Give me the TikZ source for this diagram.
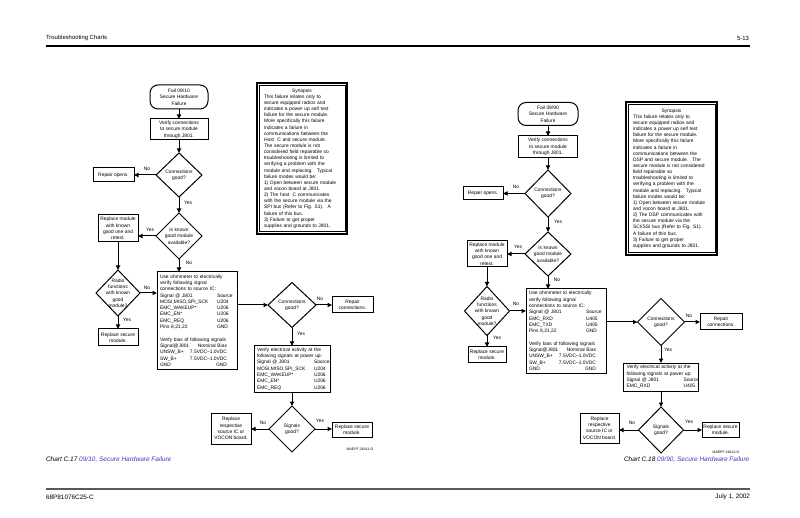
\documentclass[tikz,border=0pt]{standalone}
\usepackage{fontspec}
\setmainfont{Liberation Sans}
\usetikzlibrary{shapes.geometric,arrows.meta}
\definecolor{capblue}{RGB}{60,60,185}
\newcommand\tcola[1]{\makebox[57pt][l]{#1}}
\newcommand\tcolb[2]{\makebox[67pt][l]{#1\hfill #2}}
\begin{document}
\begin{tikzpicture}[x=1pt,y=-1pt,
  every node/.style={inner sep=0pt, outer sep=0pt},
  sm/.style={font=\fontsize{4.9}{6.3}\selectfont, align=center},
  lab/.style={font=\fontsize{4.9}{6.3}\selectfont},
  bx/.style 2 args={draw, line width=1pt, sm, minimum width=#1pt, minimum height=#2pt},
  term/.style 2 args={bx={#1}{#2}, rounded corners=8pt},
  big/.style 2 args={draw, line width=1pt, font=\fontsize{4.9}{6.3}\selectfont, align=left,
     text width=#1pt-6pt, inner xsep=3pt, inner ysep=1pt, minimum height=#2pt},
  dia/.style 2 args={draw, diamond, line width=1pt, minimum width=#1pt, minimum height=#2pt, inner sep=0pt},
  syn/.style 2 args={draw, line width=1.6pt,
     font=\fontsize{4.9}{6.15}\selectfont, align=left, text width=#1pt-14pt, inner xsep=7pt,
     inner ysep=3pt, minimum height=#2pt},
  synin/.style={draw, line width=0.6pt},
  arr/.style={draw, line width=1pt, -{Triangle[length=4.5pt,width=4.2pt]}},
  smalltxt/.style={font=\fontsize{3.5}{4}\selectfont},
  captxt/.style={font=\fontsize{6.5}{8}\selectfont\itshape, anchor=west},
  hf/.style={font=\fontsize{6.2}{8}\selectfont}
]
\fill[white] (0,0) rectangle (800,518);
\useasboundingbox (0,0) rectangle (800,518);

% header / footer
\node[hf, anchor=west, font=\fontsize{5.9}{7}\selectfont] (hdr) at (46,38) {Troubleshooting Charts};
\node[hf, anchor=east, font=\fontsize{5.9}{7}\selectfont] (pg) at (749,38) {5-13};
\draw[line width=1.4pt] (46,46) -- (750,46);
\draw[line width=1.6pt, black!65] (46,489) -- (750,489);
\node[hf, anchor=west, font=\fontsize{6.4}{8}\selectfont] (ft) at (46,497) {68P81076C25-C};
\node[hf, anchor=east, font=\fontsize{6.4}{8}\selectfont] (dt) at (750,497) {July 1, 2002};

% ================= LEFT CHART =================
\node[term={58}{24}] (t1) at (179,97) {Fail 09/10\\Secure Hardware\\Failure};
\node[bx={58}{21}] (b1) at (179,129.5) {Verify connections\\to secure module\\through J801.};
\node[dia={46}{44}] (d1) at (179,175) {};
\node[sm] (d1t) at (d1) {Connections\\good?};
\node[bx={41}{14}] (ro1) at (113.5,175) {Repair opens.};
\node[dia={46}{46}] (d2) at (179,236) {};
\node[sm] (d2t) at (d2) {Is known\\good module\\available?};
\node[bx={40}{27}] (rm1) at (118,228.5) {Replace module\\with known\\good one and\\retest.};
\node[dia={44}{46}] (rd1) at (118,293) {};
\node[sm] (rd1t) at (rd1) {Radio\\functions\\with known\\good\\module?};
\node[bx={40}{17}] (rs1) at (118,337.5) {Replace secure\\module.};
\node[big={80}{97}] (bb1) at (197,320.5) {Use ohmmeter to electrically\\
verify following signal\\
connections to source IC:\\
\tcola{Signal @ J801}Source\\
\tcola{MOSI,MISO,SPI\_SCK}U204\\
\tcola{EMC\_WAKEUP*}U206\\
\tcola{EMC\_EN*}U206\\
\tcola{EMC\_REQ}U206\\
\tcola{Pins 8,21,22}GND\\[6.3pt]
Verify bias of following signals\\
\tcolb{Signal@J801}{Nominal Bias}\\
\tcolb{UNSW\_B+}{7.5VDC–1.0VDC}\\
\tcolb{SW\_B+}{7.5VDC–1.0VDC}\\
\tcolb{GND}{GND}};
\node[dia={48}{45}] (d3) at (292,305) {};
\node[sm] (d3t) at (d3) {Connections\\good?};
\node[bx={41}{16}] (rc1) at (352.5,305) {Repair\\connections.};
\node[big={76}{46}] (va1) at (292,369) {Verify electrical activity at the\\
following signals at power up:\\
\tcola{Signal @ J801}Source\\
\tcola{MOSI,MISO,SPI\_SCK}U204\\
\tcola{EMC\_WAKEUP*}U206\\
\tcola{EMC\_EN*}U206\\
\tcola{EMC\_REQ}U206};
\node[dia={46}{46}] (d4) at (292,429) {};
\node[sm] (d4t) at (d4) {Signals\\good?};
\node[bx={40}{31}] (rr1) at (231,428.5) {Replace\\respective\\source IC or\\VOCON board.};
\node[bx={40}{15}] (rs2) at (352,429.5) {Replace secure\\module.};
\node[syn={90}{151}] (sy1) at (302,158.5) {\makebox[76pt]{Synopsis}\\
This failure relates only to\\
secure equipped radios and\\
indicates a power up self test\\
failure for the secure module.\\
More specifically this failure\\
indicates a failure in\\
communications between the\\
Host \ C and secure module.\\
The secure module is not\\
considered field repairable so\\
troubleshooting is limited to\\
verifying a problem with the\\
module and replacing. \ Typical\\
failure modes would be:\\
1) Open between secure module\\
and vocon board at J801.\\
2) The host \ C communicates\\
with the secure module via the\\
SPI bus (Refer to Fig. S1). \ A\\
failure of this bus.\\
3) Failure to get proper\\
supplies and grounds to J801.};
\draw[synin] ([shift={(2.2pt,-2.2pt)}]sy1.north west) rectangle ([shift={(-2.2pt,2.2pt)}]sy1.south east);

\draw[arr] (t1) -- (b1);
\draw[arr] (b1) -- (d1);
\draw[arr] (d1) -- (ro1);
\draw[arr] (d1) -- (d2);
\draw[arr] (d2.west) -- (d2.west -| rm1.east);
\draw[arr] (rm1) -- (rd1);
\draw[arr] (rd1) -- (rs1);
\draw[arr] (rd1.east) -- (rd1.east -| bb1.west);
\draw[arr] (d2.south) -- (d2.south |- bb1.north);
\draw[arr] (d3.west -| bb1.east) -- (d3.west);
\draw[arr] (d3) -- (rc1);
\draw[arr] (d3) -- (va1);
\draw[arr] (va1) -- (d4);
\draw[arr] (d4.west) -- (d4.west -| rr1.east);
\draw[arr] (d4.east) -- (d4.east -| rs2.west);

\node[lab] (l1) at (147,169) {No};
\node[lab] (l2) at (188,203) {Yes};
\node[lab] (l3) at (150,230) {Yes};
\node[lab] (l4) at (189,263) {No};
\node[lab] (l5) at (147,288) {No};
\node[lab] (l6) at (127,320) {Yes};
\node[lab] (l7) at (320,299) {No};
\node[lab] (l8) at (301,334) {Yes};
\node[lab] (l9) at (263,423) {No};
\node[lab] (l10) at (320,421) {Yes};
\node[smalltxt] (m1) at (360,449) {MAEPF-26411-O};
\node[captxt] (cap1) at (46,460) {Chart C.17 \textcolor{capblue}{09/10, Secure Hardware Failure}};

% ================= RIGHT CHART =================
\node[term={60}{23}] (t2) at (548,114) {Fail 09/90\\Secure Hardware\\Failure};
\node[bx={59}{22}] (b2) at (548,147) {Verify connections\\to secure module\\through J801.};
\node[dia={46}{47}] (d5) at (548,193.5) {};
\node[sm] (d5t) at (d5) {Connections\\good?};
\node[bx={40}{13}] (ro2) at (483,193.5) {Repair opens.};
\node[dia={46}{44}] (d6) at (548,254) {};
\node[sm] (d6t) at (d6) {Is known\\good module\\available?};
\node[bx={40}{26}] (rm2) at (487,254) {Replace module\\with known\\good one and\\retest.};
\node[dia={45}{49}] (rd2) at (487,311) {};
\node[sm] (rd2t) at (rd2) {Radio\\functions\\with known\\good\\module?};
\node[bx={38}{15}] (rs3) at (487,354.5) {Replace secure\\module.};
\node[big={80}{84}] (bb2) at (566,331) {Use ohmmeter to electrically\\
verify following signal\\
connections to source IC:\\
\tcola{Signal @ J801}Source\\
\tcola{EMC\_RXD}U405\\
\tcola{EMC\_TXD}U405\\
\tcola{Pins 8,21,22}GND\\[6.3pt]
Verify bias of following signals\\
\tcolb{Signal@J801}{Nominal Bias}\\
\tcolb{UNSW\_B+}{7.5VDC–1.0VDC}\\
\tcolb{SW\_B+}{7.5VDC–1.0VDC}\\
\tcolb{GND}{GND}};
\node[dia={47}{47}] (d7) at (661,322) {};
\node[sm] (d7t) at (d7) {Connections\\good?};
\node[bx={42}{16}] (rc2) at (721,322) {Repair\\connections.};
\node[big={75}{28}] (va2) at (661,377) {Verify electrical activity at the\\
following signals at power up:\\
\tcola{Signal @ J801}Source\\
\tcola{EMC\_RXD}U405};
\node[dia={45}{46}] (d8) at (661,430) {};
\node[sm] (d8t) at (d8) {Signals\\good?};
\node[bx={39}{30}] (rr2) at (599.5,428) {Replace\\respective\\source IC or\\VOCON board.};
\node[bx={37}{15}] (rs4) at (720.5,429.5) {Replace secure\\module.};
\node[syn={91}{153}] (sy2) at (671.5,178.5) {\makebox[77pt]{Synopsis}\\
This failure relates only to\\
secure equipped radios and\\
indicates a power up self test\\
failure for the secure module.\\
More specifically this failure\\
indicates a failure in\\
communications between the\\
DSP and secure module. \ The\\
secure module is not considered\\
field repairable so\\
troubleshooting is limited to\\
verifying a problem with the\\
module and replacing. \ Typical\\
failure modes would be:\\
1) Open between secure module\\
and vocon board at J801.\\
2) The DSP communicates with\\
the secure module via the\\
SCI/SSI bus (Refer to Fig. S1).\\
A failure of this bus.\\
3) Failure to get proper\\
supplies and grounds to J801.};
\draw[synin] ([shift={(2.2pt,-2.2pt)}]sy2.north west) rectangle ([shift={(-2.2pt,2.2pt)}]sy2.south east);

\draw[arr] (t2) -- (b2);
\draw[arr] (b2) -- (d5);
\draw[arr] (d5) -- (ro2);
\draw[arr] (d5) -- (d6);
\draw[arr] (d6) -- (rm2);
\draw[arr] (rm2) -- (rd2);
\draw[arr] (rd2) -- (rs3);
\draw[arr] (rd2.east) -- (rd2.east -| bb2.west);
\draw[arr] (d6.south) -- (d6.south |- bb2.north);
\draw[arr] (d7.west -| bb2.east) -- (d7.west);
\draw[arr] (d7) -- (rc2);
\draw[arr] (d7) -- (va2);
\draw[arr] (va2) -- (d8);
\draw[arr] (d8.west) -- (d8.west -| rr2.east);
\draw[arr] (d8.east) -- (d8.east -| rs4.west);

\node[lab] (r1) at (516,187) {No};
\node[lab] (r2) at (558,222) {Yes};
\node[lab] (r3) at (518,247) {Yes};
\node[lab] (r4) at (557,280) {No};
\node[lab] (r5) at (516,304) {No};
\node[lab] (r6) at (497,338) {Yes};
\node[lab] (r7) at (689,316) {No};
\node[lab] (r8) at (668,350) {Yes};
\node[lab] (r9) at (632,423) {No};
\node[lab] (r10) at (689,422) {Yes};
\node[smalltxt] (m2) at (726,452) {MAEPF-26412-O};
\node[captxt] (cap2) at (624,460) {Chart C.18 \textcolor{capblue}{09/90, Secure Hardware Failure}};
\end{tikzpicture}
\end{document}
